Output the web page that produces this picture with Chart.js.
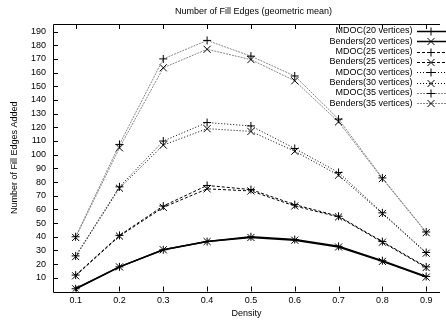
<!DOCTYPE html>
<html>
<head>
<meta charset="utf-8">
<script src="https://cdn.jsdelivr.net/npm/chart.js@4/dist/chart.umd.min.js"></script>
<style>
  html, body { margin: 0; padding: 0; background: #fff; }
  #chart { display: block; }
</style>
</head>
<body>
<canvas id="chart" width="446" height="320"></canvas>
<script>
// Data
const chartTitle = 'Number of Fill Edges (geometric mean)';
const densities = [0.1, 0.2, 0.3, 0.4, 0.5, 0.6, 0.7, 0.8, 0.9];
const yTickValues = [10, 20, 30, 40, 50, 60, 70, 80, 90, 100, 110, 120, 130, 140, 150, 160, 170, 180, 190];

const mdoc20 = [2, 18, 30.5, 36.5, 40, 38, 33, 22.5, 11];
const benders20 = [2, 18, 30.5, 36.5, 39.5, 37.5, 32.5, 22, 10.5];
const mdoc25 = [12, 41, 62.5, 77.5, 74.5, 63.5, 55, 36.5, 18];
const benders25 = [11.5, 40.5, 61.5, 75, 73.5, 62.5, 54.5, 36, 17.5];
const mdoc30 = [26, 76.5, 110, 123.5, 121, 104.5, 87, 57.5, 28.5];
const benders30 = [25.5, 75.5, 107, 119, 117, 102.5, 85, 57, 28];
const mdoc35 = [40, 107.5, 170, 183.5, 172, 157.5, 126, 83, 43.5];
const benders35 = [39.5, 105, 163.5, 177, 169.5, 154, 124, 82.5, 43];

// Series styling (gnuplot-like monochrome)
const series = [
    { label: 'MDOC(20 vertices)', data: mdoc20, marker: 'cross', color: '#000', dash: [], width: 1.5 },
    { label: 'Benders(20 vertices)', data: benders20, marker: 'crossRot', color: '#000', dash: [], width: 1.5 },
    { label: 'MDOC(25 vertices)', data: mdoc25, marker: 'cross', color: '#000', dash: [3, 2], width: 1 },
    { label: 'Benders(25 vertices)', data: benders25, marker: 'crossRot', color: '#000', dash: [3, 2], width: 1 },
    { label: 'MDOC(30 vertices)', data: mdoc30, marker: 'cross', color: '#000', dash: [1, 2], width: 1 },
    { label: 'Benders(30 vertices)', data: benders30, marker: 'crossRot', color: '#000', dash: [1, 2], width: 1 },
    { label: 'MDOC(35 vertices)', data: mdoc35, marker: 'cross', color: '#888', dash: [2, 1], width: 1 },
    { label: 'Benders(35 vertices)', data: benders35, marker: 'crossRot', color: '#888', dash: [2, 1], width: 1 }
];

const FONT = '"Liberation Sans", Arial, Helvetica, sans-serif';
Chart.defaults.font.family = FONT;
Chart.defaults.font.size = 9;
Chart.defaults.color = '#000';

// Draw a point marker by hand (used for the key samples)
function drawMarker(ctx, style, x, y) {
    ctx.beginPath();
    if (style === 'cross') {
        ctx.moveTo(x - 4, y); ctx.lineTo(x + 4, y);
        ctx.moveTo(x, y - 4); ctx.lineTo(x, y + 4);
    } else {
        ctx.moveTo(x - 3.5, y - 3.5); ctx.lineTo(x + 3.5, y + 3.5);
        ctx.moveTo(x - 3.5, y + 3.5); ctx.lineTo(x + 3.5, y - 3.5);
    }
    ctx.stroke();
}

// Title, frame, inward ticks and key, like gnuplot
const framePlugin = {
    id: 'frame',
    afterDatasetsDraw(chart) {
        const ctx = chart.ctx;
        const area = chart.chartArea;
        const xs = chart.scales.x;
        const ys = chart.scales.y;
        ctx.save();

        ctx.font = '9px ' + FONT;
        ctx.fillStyle = '#000';
        ctx.textAlign = 'center';
        ctx.textBaseline = 'middle';
        ctx.fillText(chartTitle, 253.5, 12);

        ctx.strokeStyle = '#000';
        ctx.lineWidth = 1;
        ctx.setLineDash([]);
        ctx.beginPath();
        ctx.moveTo(area.right, Math.round(area.top) + 0.5);
        ctx.lineTo(Math.round(area.left) + 0.5, Math.round(area.top) + 0.5);
        ctx.lineTo(Math.round(area.left) + 0.5, Math.round(area.bottom) + 0.5);
        ctx.lineTo(area.right, Math.round(area.bottom) + 0.5);
        ctx.stroke();

        ctx.beginPath();
        yTickValues.forEach(v => {
            const py = Math.round(ys.getPixelForValue(v)) + 0.5;
            ctx.moveTo(area.left, py);
            ctx.lineTo(area.left + 5, py);
        });
        densities.forEach(d => {
            const px = Math.round(xs.getPixelForValue(d)) + 0.5;
            ctx.moveTo(px, area.bottom);
            ctx.lineTo(px, area.bottom - 5);
            ctx.moveTo(px, area.top);
            ctx.lineTo(px, area.top + 5);
        });
        ctx.stroke();

        // Key
        ctx.textAlign = 'right';
        series.forEach((s, i) => {
            const y = 31 + i * 10.3;
            ctx.fillStyle = '#000';
            ctx.fillText(s.label, 412.5, y);
            ctx.strokeStyle = s.color;
            ctx.lineWidth = s.width;
            ctx.setLineDash(s.dash);
            ctx.beginPath();
            ctx.moveTo(417, Math.round(y) + 0.5);
            ctx.lineTo(446, Math.round(y) + 0.5);
            ctx.stroke();
            ctx.setLineDash([]);
            ctx.strokeStyle = '#000';
            ctx.lineWidth = 1;
            drawMarker(ctx, s.marker, 431, Math.round(y) + 0.5);
        });
        ctx.restore();
    }
};

const ctx = document.getElementById('chart').getContext('2d');
new Chart(ctx, {
    type: 'line',
    data: {
        datasets: series.map(s => ({
            label: s.label,
            data: densities.map((d, i) => ({ x: d, y: s.data[i] })),
            borderColor: s.color,
            borderWidth: s.width,
            borderDash: s.dash,
            fill: false,
            tension: 0,
            pointStyle: s.marker,
            pointRadius: s.marker === 'cross' ? 4 : 5,
            pointBorderColor: '#000',
            pointBackgroundColor: '#000',
            pointBorderWidth: 1
        }))
    },
    options: {
        responsive: false,
        animation: false,
        layout: { padding: { top: 24, left: 0, right: 0, bottom: 0 } },
        plugins: {
            legend: { display: false },
            tooltip: { enabled: false },
            title: { display: false }
        },
        scales: {
            x: {
                type: 'linear',
                min: 0.0483,
                max: 0.9315,
                grid: { display: false, drawTicks: false },
                border: { display: false },
                afterBuildTicks: scale => {
                    scale.ticks = densities.map(v => ({ value: v }));
                },
                afterFit: scale => { scale.height = 28.5; },
                ticks: {
                    autoSkip: false,
                    maxRotation: 0,
                    padding: 4,
                    color: '#000',
                    callback: v => v.toFixed(1)
                },
                title: {
                    display: true,
                    text: 'Density',
                    color: '#000',
                    font: { size: 9 },
                    padding: { top: 0, bottom: 1.3 }
                }
            },
            y: {
                min: 0,
                max: 195.5,
                grid: { display: false, drawTicks: false },
                border: { display: false },
                afterBuildTicks: scale => {
                    scale.ticks = yTickValues.map(v => ({ value: v }));
                },
                afterFit: scale => { scale.width = 53; },
                ticks: {
                    autoSkip: false,
                    padding: 7,
                    color: '#000'
                },
                title: {
                    display: true,
                    text: 'Number of Fill Edges Added',
                    color: '#000',
                    font: { size: 9 },
                    padding: { top: 9.6, bottom: 0 }
                }
            }
        }
    },
    plugins: [framePlugin]
});
</script>
</body>
</html>
